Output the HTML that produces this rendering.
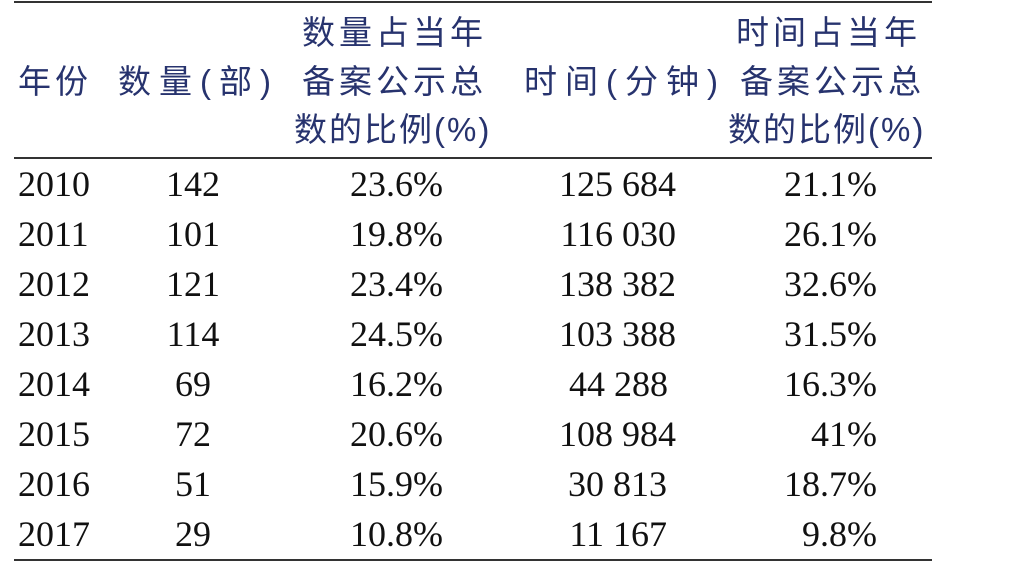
<!DOCTYPE html>
<html><head><meta charset="utf-8"><style>
body{margin:0;width:1016px;height:588px;background:#fff;position:relative;overflow:hidden}
.h{position:absolute;font-family:"Liberation Sans","Noto Sans CJK SC",sans-serif;font-size:33px;color:#27336e;letter-spacing:4px;white-space:nowrap;line-height:1}
.l{position:absolute;left:14px;width:918px;height:2px;background:#333}
.d{position:absolute;font-family:"Liberation Serif",serif;font-size:36px;color:#111;white-space:nowrap;line-height:1}
.r{text-align:right}
.c{left:140px;width:106px;text-align:center}
</style></head><body>
<div class="l" style="top:1px"></div>
<div class="l" style="top:157px"></div>
<div class="l" style="top:559px"></div>
<div class="h" style="left:18px;top:65px">年份</div>
<div class="h" style="left:118px;top:65px;letter-spacing:8px">数量(部)</div>
<div class="h" style="left:302px;top:16px">数量占当年</div>
<div class="h" style="left:302px;top:65px">备案公示总</div>
<div class="h" style="left:294px;top:113px;letter-spacing:2px">数的比例(%)</div>
<div class="h" style="left:524px;top:65px;letter-spacing:8px">时间(分钟)</div>
<div class="h" style="left:736px;top:16px">时间占当年</div>
<div class="h" style="left:740px;top:65px">备案公示总</div>
<div class="h" style="left:728px;top:113px;letter-spacing:2px">数的比例(%)</div>
<div class="d" style="left:18px;top:166px">2010</div><div class="d c" style="top:166px">142</div><div class="d r" style="right:573px;top:166px">23.6%</div><div class="d r" style="right:340px;top:166px">125 684</div><div class="d r" style="right:139px;top:166px">21.1%</div>
<div class="d" style="left:18px;top:216px">2011</div><div class="d c" style="top:216px">101</div><div class="d r" style="right:573px;top:216px">19.8%</div><div class="d r" style="right:340px;top:216px">116 030</div><div class="d r" style="right:139px;top:216px">26.1%</div>
<div class="d" style="left:18px;top:266px">2012</div><div class="d c" style="top:266px">121</div><div class="d r" style="right:573px;top:266px">23.4%</div><div class="d r" style="right:340px;top:266px">138 382</div><div class="d r" style="right:139px;top:266px">32.6%</div>
<div class="d" style="left:18px;top:316px">2013</div><div class="d c" style="top:316px">114</div><div class="d r" style="right:573px;top:316px">24.5%</div><div class="d r" style="right:340px;top:316px">103 388</div><div class="d r" style="right:139px;top:316px">31.5%</div>
<div class="d" style="left:18px;top:366px">2014</div><div class="d c" style="top:366px">69</div><div class="d r" style="right:573px;top:366px">16.2%</div><div class="d r" style="right:348px;top:366px">44 288</div><div class="d r" style="right:139px;top:366px">16.3%</div>
<div class="d" style="left:18px;top:416px">2015</div><div class="d c" style="top:416px">72</div><div class="d r" style="right:573px;top:416px">20.6%</div><div class="d r" style="right:340px;top:416px">108 984</div><div class="d r" style="right:139px;top:416px">41%</div>
<div class="d" style="left:18px;top:466px">2016</div><div class="d c" style="top:466px">51</div><div class="d r" style="right:573px;top:466px">15.9%</div><div class="d r" style="right:349px;top:466px">30 813</div><div class="d r" style="right:139px;top:466px">18.7%</div>
<div class="d" style="left:18px;top:516px">2017</div><div class="d c" style="top:516px">29</div><div class="d r" style="right:573px;top:516px">10.8%</div><div class="d r" style="right:349px;top:516px">11 167</div><div class="d r" style="right:139px;top:516px">9.8%</div>
</body></html>
